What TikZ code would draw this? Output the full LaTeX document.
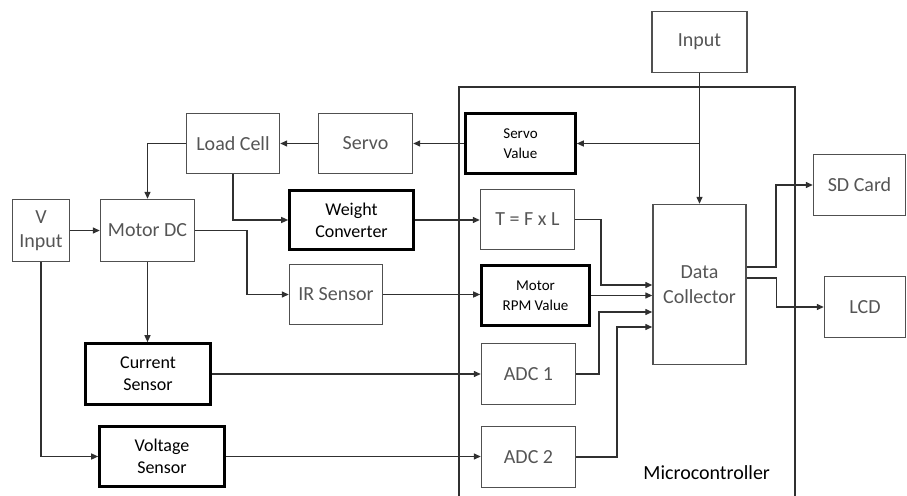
\documentclass[tikz,border=0pt]{standalone}
\usepackage{fontspec}
\setmainfont{Carlito}
\usetikzlibrary{arrows.meta}
\definecolor{boxgray}{HTML}{505050}
\definecolor{txtgray}{HTML}{555555}
\definecolor{linec}{HTML}{303030}
\begin{document}
\begin{tikzpicture}[x=1pt,y=-1pt,
  plainbox/.style={draw=boxgray, line width=1.4pt, inner sep=0pt, text=txtgray, align=center, font=\fontsize{20}{24.5}\selectfont},
  boldbox/.style={draw=black, line width=2.6pt, inner sep=0pt, text=black, align=center, font=\fontsize{18}{21.7}\selectfont},
  smalltext/.style={font=\fontsize{15}{20}\selectfont},
  conn/.style={draw=linec, line width=1.3pt, -{Triangle[length=7pt,width=6pt]}},
  wire/.style={draw=linec, line width=1.3pt}]
\useasboundingbox (0,0) rectangle (907,495);

% microcontroller frame
\draw[wire] (459,500) -- (459,87) -- (795,87) -- (795,500);
\node[font=\fontsize{20}{24}\selectfont, text=black, inner sep=0pt] (mc) at (706.7,472.7) {Microcontroller};

% boxes
\node[plainbox, minimum width=95pt, minimum height=61pt] (in) at (699.5,42) {Input};
\node[boldbox, smalltext, minimum width=110pt, minimum height=60pt] (sv) at (520.5,143.5) {Servo\\Value};
\node[plainbox, minimum width=94pt, minimum height=60pt] (servo) at (365.5,143.5) {Servo};
\node[plainbox, minimum width=93pt, minimum height=60pt] (lc) at (233,143.5) {Load Cell};
\node[plainbox, minimum width=57pt, minimum height=62pt] (vin) at (41,230.5) {V\\Input};
\node[plainbox, minimum width=94pt, minimum height=62pt] (mdc) at (147.5,230.5) {Motor DC};
\node[boldbox, minimum width=124pt, minimum height=59pt] (wc) at (351.5,220) {Weight\\Converter};
\node[plainbox, minimum width=94pt, minimum height=60pt] (t) at (527.5,219.5) {T = F x L};
\node[plainbox, minimum width=93pt, minimum height=60pt] (ir) at (336,294.5) {IR Sensor};
\node[boldbox, smalltext, minimum width=108pt, minimum height=60pt] (rpm) at (535.5,295.5) {Motor\\RPM Value};
\node[plainbox, minimum width=93pt, minimum height=160pt] (dc) at (699.5,284.5) {Data\\Collector};
\node[plainbox, minimum width=92pt, minimum height=61pt] (sd) at (859.5,185) {SD Card};
\node[plainbox, minimum width=81pt, minimum height=61pt] (lcd) at (865,307) {LCD};
\node[boldbox, minimum width=125pt, minimum height=61pt] (cs) at (148,374) {Current\\Sensor};
\node[plainbox, minimum width=94pt, minimum height=61pt] (a1) at (528.5,374) {ADC 1};
\node[boldbox, minimum width=125pt, minimum height=60pt] (vs) at (162,456.5) {Voltage\\Sensor};
\node[plainbox, minimum width=94pt, minimum height=61pt] (a2) at (528.5,457) {ADC 2};

% junction coordinates
\coordinate (j1) at (601,285);
\coordinate (j3) at (599,312);
\coordinate (j4) at (617,327);
\coordinate (j5) at (776,267);
\coordinate (j6) at (776.5,278);
\coordinate (jm) at (247,230.5);

% connectors
\draw[conn] (in.south) -- (in.south |- dc.north);
\draw[conn] (in.south |- sv.east) -- (sv.east);
\draw[conn] (sv.west) -- (servo.east);
\draw[conn] (servo.west) -- (lc.east);
\draw[conn] (lc.west) -| (mdc.north);
\draw[conn] (lc.south) |- (wc.west);
\draw[conn] (vin.east) -- (mdc.west);
\draw[conn] (mdc.east) -- (jm) |- (ir.west);
\draw[conn] (mdc.south) -- (mdc.south |- cs.north);
\draw[conn] (vin.south) |- (vs.west);
\draw[conn] (wc.east) -- (t.west |- wc.east);
\draw[conn] (ir.east) -- (rpm.west |- ir.east);
\draw[conn] (cs.east) -- (a1.west);
\draw[conn] (vs.east) -- (a2.west |- vs.east);
\draw[conn] (t.east) -| (j1) -- (dc.west |- j1);
\draw[conn] (rpm.east) -- (dc.west |- rpm.east);
\draw[conn] (a1.east) -| (j3) -- (dc.west |- j3);
\draw[conn] (a2.east) -| (j4) -- (dc.west |- j4);
\draw[conn] (dc.east |- j5) -- (j5) |- (sd.west);
\draw[conn] (dc.east |- j6) -- (j6) |- (lcd.west);
\end{tikzpicture}
\end{document}
